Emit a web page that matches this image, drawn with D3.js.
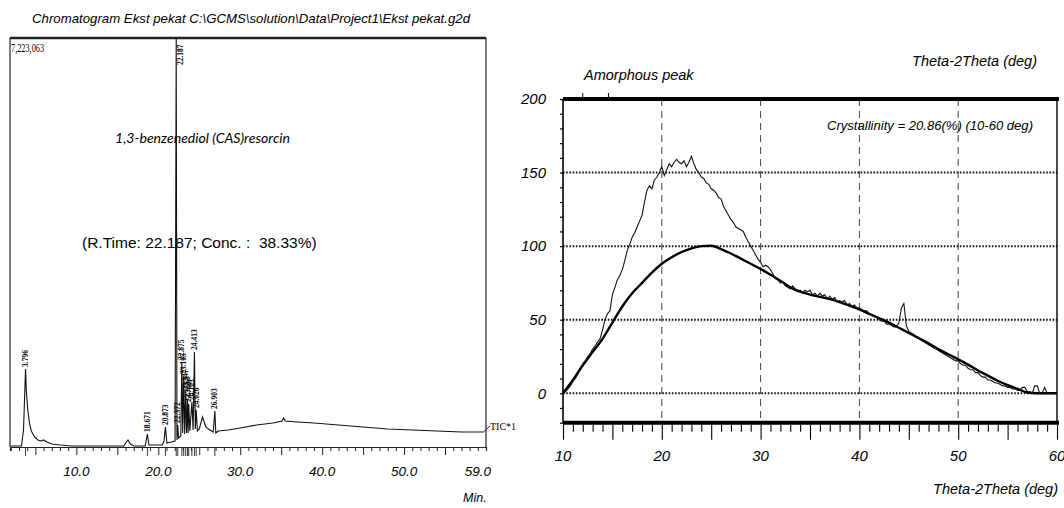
<!DOCTYPE html>
<html>
<head>
<meta charset="utf-8">
<script src="https://cdn.jsdelivr.net/npm/d3@7"></script>
<style>
  html, body { margin: 0; padding: 0; background: #fff; }
  svg { display: block; }
</style>
</head>
<body>
<svg id="fig" width="1064" height="508"></svg>
<script>
// ---------------- GC-MS total ion chromatogram ----------------
const ticMax = 7223063;
const ticTime = [
  2.0, 3.3, 3.55, 3.796, 3.9, 4.05, 4.25, 4.5, 4.9, 5.3, 5.7, 6.0, 6.4, 7.0, 8.0, 9.5,
  15.8, 16.1, 16.3, 16.6, 17.0, 18.4, 18.671, 18.85, 20.5, 20.7, 20.873, 21.05, 21.6, 22.05,
  22.187, 22.28, 22.372, 22.47, 22.75, 22.875, 22.98, 23.105, 23.22, 23.347, 23.45, 23.568,
  23.64, 23.712, 23.85, 24.103, 24.25, 24.413, 24.52, 24.626, 24.78, 25.0, 25.4, 25.8, 26.3,
  26.7, 26.903, 27.02, 27.3, 28.5, 30.0, 32.0, 34.0, 35.1, 35.3, 35.5, 37.0, 39.0, 42.0,
  45.0, 48.0, 51.0, 54.0, 57.0, 59.7
];
const ticCounts = [
  18000, 18000, 300000, 1378000, 971000, 689000, 442000, 283000, 177000, 124000, 106000, 124000, 88000, 53000, 35000, 18000,
  18000, 88000, 124000, 53000, 18000, 18000, 230000, 35000, 35000, 106000, 353000, 70000, 88000, 106000,
  7223063, 124000, 389000, 159000, 194000, 1501000, 247000, 1254000, 230000, 971000, 247000, 848000,
  247000, 759000, 283000, 795000, 300000, 1678000, 318000, 653000, 283000, 318000, 530000, 353000, 300000,
  265000, 636000, 247000, 283000, 300000, 336000, 389000, 424000, 459000, 512000, 459000, 442000, 424000, 389000,
  353000, 318000, 300000, 283000, 265000, 265000
];
const peakTimes = [3.796, 18.671, 20.873, 22.372, 22.875, 23.105, 23.347, 23.568, 23.712, 24.103, 24.413, 24.626, 26.903];
const mainPeak = 22.187;
const timeTicks = [10, 20, 30, 40, 50, 59];

// ---------------- XRD pattern (Theta-2Theta) ----------------
const obsStart = 10, obsStep = 0.25;
const obsIntensity = [
  0, 1, 3, 5, 8, 10, 13, 16, 20, 22, 25, 27, 30, 32, 35, 37,
  43, 50, 54, 56, 67, 72, 77, 80, 84, 90, 97, 101, 106, 109, 113, 117,
  121, 130, 138, 141, 139, 145, 147, 150, 154, 148, 152, 156, 154, 157, 159, 157,
  156, 158, 154, 157, 161, 156, 152, 150, 147, 146, 143, 142, 139, 138, 136, 133,
  132, 127, 124, 121, 118, 116, 113, 112, 111, 110, 106, 103, 100, 97, 94, 91,
  89, 86, 87, 86, 84, 81, 78, 77, 75, 76, 73, 72, 71, 73, 71, 69,
  70, 68, 70, 69, 70, 67, 68, 66, 68, 66, 67, 64, 66, 64, 65, 62,
  63, 62, 63, 60, 61, 59, 60, 58, 58,
  57, 56, 56, 54, 53, 52, 52, 50, 49, 49, 47, 47, 46, 45, 45, 48,
  58, 61, 46, 42, 41, 40, 38, 38, 36, 35, 34, 33, 32, 31, 30, 29,
  28, 27, 26, 25, 24, 23, 22, 22, 20, 19, 19, 17, 16, 16, 14, 14,
  12, 11, 11, 9, 9, 8, 7, 7, 6, 5, 5, 4, 4, 3, 3, 2,
  2, 4, 4, 1, 1, 0, 5, 5, 0, 0, 4, 0, 0, 0, 0, 0
];
const fitStart = 10, fitStep = 1;
const fitIntensity = [
  0, 9, 19, 28, 37, 48, 59, 68, 75, 82, 88, 92.5, 96, 98.5, 100, 100.3,
  98, 95, 91.5, 88, 84.5, 80.5, 76.5, 72, 69, 67, 65.5, 64, 62, 59.5,
  57, 54, 51, 48, 44.5, 41, 37.5, 34, 30, 26.5, 23, 19.5, 15.5, 12, 8.5,
  5.5, 3, 0.5, 0, 0, 0
];
const xrdXTicks = [10, 20, 30, 40, 50, 60];
const xrdYTicks = [0, 50, 100, 150, 200];
const xrdGridY = [0, 50, 100, 150];
const xrdGridX = [20, 30, 40, 50];
const amorphousMarks = [12, 14.6];

const sans = '"Liberation Sans", Arial, Helvetica, sans-serif';
const serif = '"Liberation Serif", "Times New Roman", serif';

const svg = d3.select('#fig');
svg.append('rect').attr('width', 1064).attr('height', 508).attr('fill', '#fff');

// ================= chromatogram panel =================
const gx = d3.scaleLinear().domain([1.9, 60.0]).range([10, 486]);
const gy = d3.scaleLinear().domain([0, ticMax]).range([447, 38]);
const L = svg.append('g');

L.append('text').attr('x', 32).attr('y', 23)
  .attr('font-family', sans).attr('font-style', 'italic').attr('font-size', 13)
  .attr('textLength', 438).attr('lengthAdjust', 'spacingAndGlyphs')
  .text('Chromatogram Ekst pekat C:\\GCMS\\solution\\Data\\Project1\\Ekst pekat.g2d');

// frame
L.append('line').attr('x1', 10).attr('x2', 486).attr('y1', 38).attr('y2', 38)
  .attr('stroke', '#222').attr('stroke-width', 2.5);
L.append('line').attr('x1', 10).attr('x2', 10).attr('y1', 38).attr('y2', 447)
  .attr('stroke', '#222').attr('stroke-width', 1.2);
L.append('line').attr('x1', 486).attr('x2', 486).attr('y1', 38).attr('y2', 447)
  .attr('stroke', '#222').attr('stroke-width', 1.2);

// time axis
const tAxis = d3.axisBottom(gx)
  .tickValues(d3.range(2, 60, 1))
  .tickSize(4).tickFormat('');
const tAx = L.append('g').attr('transform', 'translate(0,447)').call(tAxis);
tAx.select('.domain').attr('stroke', '#222').attr('stroke-width', 1.2);
tAx.selectAll('.tick line').attr('stroke', '#222')
  .attr('y2', d => (d % 5 === 0 ? 8 : 4));
L.append('g').selectAll('text').data(timeTicks).join('text')
  .attr('x', d => gx(d)).attr('y', 476)
  .attr('text-anchor', 'middle')
  .attr('font-family', sans).attr('font-style', 'italic').attr('font-size', 13.5)
  .text(d => d3.format('.1f')(d));
L.append('text').attr('x', 463).attr('y', 502)
  .attr('font-family', sans).attr('font-style', 'italic').attr('font-size', 12.5)
  .text('Min.');

// peak markers below the axis
L.append('g').selectAll('line').data(peakTimes.concat([mainPeak])).join('line')
  .attr('x1', d => gx(d)).attr('x2', d => gx(d))
  .attr('y1', 447).attr('y2', 456)
  .attr('stroke', '#222').attr('stroke-width', 0.9);

// signal trace
const ticPts = ticTime.map((t, i) => [t, ticCounts[i]]);
L.append('path').datum(ticPts)
  .attr('fill', 'none').attr('stroke', '#111').attr('stroke-width', 1.1)
  .attr('d', d3.line().x(d => gx(d[0])).y(d => gy(d[1])));

// peak labels
const apex = t => ticCounts[ticTime.indexOf(t)];
L.append('g').selectAll('text').data(peakTimes).join('text')
  .attr('transform', d => `translate(${gx(d)},${gy(apex(d)) - 2}) rotate(-90)`)
  .attr('dy', '0.33em')
  .attr('font-family', serif).attr('font-weight', 'bold').attr('font-size', 7.5)
  .text(d => d.toFixed(3));
L.append('text')
  .attr('transform', `translate(${gx(mainPeak) + 7},65) rotate(-90)`)
  .attr('font-family', serif).attr('font-weight', 'bold').attr('font-size', 7.5)
  .text(mainPeak.toFixed(3));

L.append('text').attr('x', 11).attr('y', 52)
  .attr('font-family', serif).attr('font-size', 12)
  .attr('textLength', 33).attr('lengthAdjust', 'spacingAndGlyphs')
  .text(d3.format(',')(ticMax));

// channel tag at the trace end
const last = ticPts[ticPts.length - 1];
L.append('path')
  .attr('d', `M${gx(last[0])},${gy(last[1])} L490,426`)
  .attr('stroke', '#222').attr('fill', 'none');
L.append('text').attr('x', 490).attr('y', 430)
  .attr('font-family', serif).attr('font-size', 10)
  .text('TIC*1');

// annotations
L.append('text').attr('x', 115).attr('y', 143)
  .attr('font-family', 'Lato, "Open Sans", sans-serif').attr('font-style', 'italic').attr('font-size', 14)
  .attr('textLength', 175).attr('lengthAdjust', 'spacingAndGlyphs')
  .text('1,3-benzenediol (CAS)resorcin');
L.append('text').attr('x', 82).attr('y', 248)
  .attr('font-family', sans).attr('font-size', 15.5)
  .attr('xml:space', 'preserve').style('white-space', 'pre')
  .text('(R.Time: 22.187; Conc. :  38.33%)');

// ================= XRD panel =================
const x2 = d3.scaleLinear().domain([10, 60]).range([563, 1057]);
const y2 = d3.scaleLinear().domain([-20, 200]).range([422.7, 99]);
const R = svg.append('g');

// grid
R.append('g').selectAll('line').data(xrdGridY).join('line')
  .attr('x1', x2(10)).attr('x2', x2(60))
  .attr('y1', d => y2(d)).attr('y2', d => y2(d))
  .attr('stroke', '#111').attr('stroke-width', 2).attr('stroke-dasharray', '1.6,1.6');
R.append('g').selectAll('line').data(xrdGridX).join('line')
  .attr('x1', d => x2(d)).attr('x2', d => x2(d))
  .attr('y1', y2(200)).attr('y2', y2(-20))
  .attr('stroke', '#444').attr('stroke-width', 1).attr('stroke-dasharray', '7,5');

// frame
R.append('line').attr('x1', x2(10)).attr('x2', x2(60) + 2).attr('y1', y2(200)).attr('y2', y2(200))
  .attr('stroke', '#000').attr('stroke-width', 4);
R.append('line').attr('x1', x2(10)).attr('x2', x2(60) + 2).attr('y1', y2(-20)).attr('y2', y2(-20))
  .attr('stroke', '#000').attr('stroke-width', 4);
R.append('line').attr('x1', x2(10)).attr('x2', x2(10)).attr('y1', y2(200)).attr('y2', y2(-20))
  .attr('stroke', '#000').attr('stroke-width', 1.6);
R.append('line').attr('x1', x2(60)).attr('x2', x2(60)).attr('y1', y2(200)).attr('y2', y2(-20))
  .attr('stroke', '#000').attr('stroke-width', 1.4);

// ticks
const bx = d3.axisBottom(x2).tickValues(d3.range(10, 60.5, 1)).tickSize(7).tickFormat('');
const bAx = R.append('g').attr('transform', `translate(0,${y2(-20) + 2})`).call(bx);
bAx.select('.domain').remove();
bAx.selectAll('.tick line').attr('stroke', '#000').attr('stroke-width', 1.1)
  .attr('y2', d => (d % 5 === 0 ? 15 : 7));
const ly = d3.axisLeft(y2).tickValues(d3.range(-20, 201, 10)).tickSize(3).tickFormat('');
const lAx = R.append('g').attr('transform', `translate(${x2(10)},0)`).call(ly);
lAx.select('.domain').remove();
lAx.selectAll('.tick line').attr('stroke', '#000').attr('stroke-width', 1.2);
R.append('g').selectAll('line').data(amorphousMarks).join('line')
  .attr('x1', d => x2(d)).attr('x2', d => x2(d))
  .attr('y1', y2(200) - 6).attr('y2', y2(200))
  .attr('stroke', '#000').attr('stroke-width', 1);

// tick labels
R.append('g').selectAll('text').data(xrdXTicks).join('text')
  .attr('x', d => x2(d)).attr('y', 461)
  .attr('text-anchor', 'middle')
  .attr('font-family', sans).attr('font-style', 'italic').attr('font-size', 15)
  .text(d => d);
R.append('g').selectAll('text').data(xrdYTicks).join('text')
  .attr('x', 546).attr('y', d => y2(d)).attr('dy', '0.35em')
  .attr('text-anchor', 'end')
  .attr('font-family', sans).attr('font-style', 'italic').attr('font-size', 15)
  .text(d => d);

// curves
const obsPts = obsIntensity.map((v, i) => [obsStart + i * obsStep, v]);
const fitPts = fitIntensity.map((v, i) => [fitStart + i * fitStep, v]);
const line2 = d3.line().x(d => x2(d[0])).y(d => y2(d[1]));
R.append('path').datum(fitPts)
  .attr('fill', 'none').attr('stroke', '#000').attr('stroke-width', 2.4)
  .attr('stroke-linejoin', 'round').attr('d', line2.curve(d3.curveMonotoneX));
R.append('path').datum(obsPts)
  .attr('fill', 'none').attr('stroke', '#111').attr('stroke-width', 1.1)
  .attr('d', d3.line().x(d => x2(d[0])).y(d => y2(d[1])));

// labels
R.append('text').attr('x', 584).attr('y', 80)
  .attr('font-family', sans).attr('font-style', 'italic').attr('font-size', 14.5)
  .text('Amorphous peak');
R.append('text').attr('x', 1037).attr('y', 66).attr('text-anchor', 'end')
  .attr('font-family', sans).attr('font-style', 'italic').attr('font-size', 14.5)
  .text('Theta-2Theta (deg)');
R.append('text').attr('x', 827).attr('y', 130)
  .attr('font-family', sans).attr('font-style', 'italic').attr('font-size', 12.5)
  .attr('textLength', 206).attr('lengthAdjust', 'spacingAndGlyphs')
  .text('Crystallinity = 20.86(%) (10-60 deg)');
R.append('text').attr('x', 1058).attr('y', 494).attr('text-anchor', 'end')
  .attr('font-family', sans).attr('font-style', 'italic').attr('font-size', 14.5)
  .text('Theta-2Theta (deg)');
</script>
</body>
</html>
